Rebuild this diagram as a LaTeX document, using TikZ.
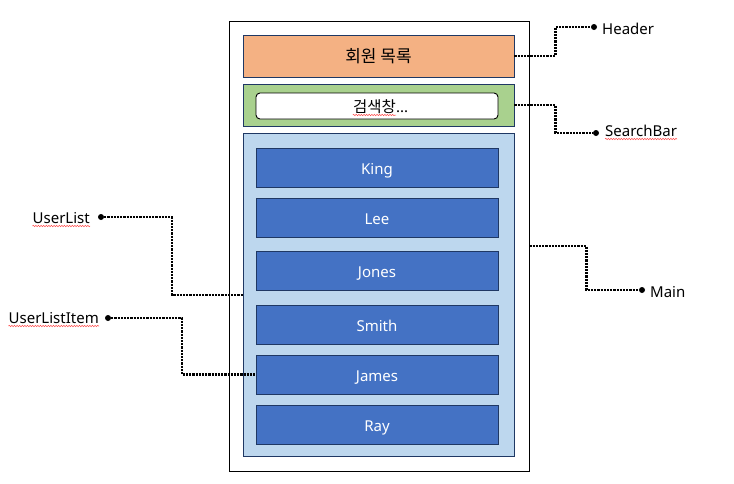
\documentclass[tikz,border=0pt]{standalone}
\usepackage{fontspec}
\setmainfont{Noto Sans}
\newfontfamily\kr{Noto Sans CJK KR}
\usetikzlibrary{decorations.pathmorphing}
\definecolor{hdrorange}{HTML}{F4B183}
\definecolor{srchgreen}{HTML}{A9D18E}
\definecolor{mainblue}{HTML}{BDD7EE}
\definecolor{itemblue}{HTML}{4472C4}
\definecolor{navy}{HTML}{1F3864}
\tikzset{
  panel/.style={draw=navy, line width=0.9pt, minimum width=271pt, inner sep=0pt},
  itembox/.style={draw=navy, fill=itemblue, line width=0.9pt, minimum width=242pt, minimum height=39pt, inner sep=0pt, text=white, text height=13pt, text depth=0pt, font=\fontsize{15}{17}\selectfont},
  leader/.style={densely dotted, line width=2.2pt},
  pin/.style={circle, fill=black, inner sep=0pt, minimum size=6pt},
  lbl/.style={font=\fontsize{15}{17}\selectfont, inner sep=0pt},
  squiggle/.style={draw=red!70, line width=0.5pt, decorate, decoration={snake, amplitude=0.7pt, segment length=2.6pt}}
}
\begin{document}
\begin{tikzpicture}[x=1pt,y=-1pt]
\useasboundingbox (0,0) rectangle (734,483);
% outer frame
\node[draw=black, line width=0.9pt, minimum width=300pt, minimum height=450pt, inner sep=0pt] (outer) at (379,246) {};
% header
\node[panel, fill=hdrorange, minimum height=42pt] (header) at (378.5,56) {\kr\fontsize{17}{19}\selectfont 회원 목록};
% search bar
\node[panel, fill=srchgreen, minimum height=42pt] (search) at (378.5,105) {};
\node[draw=black, fill=white, rounded corners=4pt, line width=0.9pt, minimum width=242pt, minimum height=26pt, inner sep=0pt] (input) at (377,106) {};
\node[inner sep=0pt, anchor=base east, font=\kr\fontsize{15.5}{17}\selectfont] (stxt) at (396,112) {검색창};
\node[inner sep=0pt, anchor=base west, font=\fontsize{15}{17}\selectfont] (sdots) at (stxt.base east) {...};
% main
\node[panel, fill=mainblue, minimum height=323pt] (main) at (378.5,294.5) {};
\node[itembox] (king)  at (377,167.5) {King};
\node[itembox] (lee)   at (377,217.5) {Lee};
\node[itembox] (jones) at (377,270.5) {Jones};
\node[itembox] (smith) at (377,324.5) {Smith};
\node[itembox] (james) at (377,374.5) {James};
\node[itembox] (ray)   at (377,424.5) {Ray};
% pins
\node[pin] (phdr)  at (594,27) {};
\node[pin] (psrch) at (596,133) {};
\node[pin] (pmain) at (642,290) {};
\node[pin] (pul)   at (101,217) {};
\node[pin] (puli)  at (108,318) {};
% labels
\node[lbl, anchor=base west] (lhdr)  at (602,34) {Header};
\node[lbl, anchor=base west] (lsrch) at (605,136) {SearchBar};
\node[lbl, anchor=base west] (lmain) at (650,297) {Main};
\node[lbl, anchor=base east] (lul)   at (90,223) {UserList};
\node[lbl, anchor=base east] (luli)  at (99,323) {UserListItem};
% leaders
\draw[leader] (header.east) -- ++(41,0) |- (phdr);
\draw[leader] (search.east) -- ++(41,0) |- (psrch);
\draw[leader] (outer.east) -- ++(57,0) |- (pmain);
\draw[leader] (pul) -| (172,295) -- (main.west |- 0,295);
\draw[leader] (puli) -| (182,374.5) -- (james.west);
% spell-check marks
\draw[squiggle] ([yshift=-3pt]stxt.base west) -- ([yshift=-3pt]stxt.base east);
\draw[squiggle] ([yshift=-3pt]lsrch.base west) -- ([yshift=-3pt]lsrch.base east);
\draw[squiggle] ([yshift=-3pt]lul.base west) -- ([yshift=-3pt]lul.base east);
\draw[squiggle] ([yshift=-3pt]luli.base west) -- ([yshift=-3pt]luli.base east);
\end{tikzpicture}
\end{document}
